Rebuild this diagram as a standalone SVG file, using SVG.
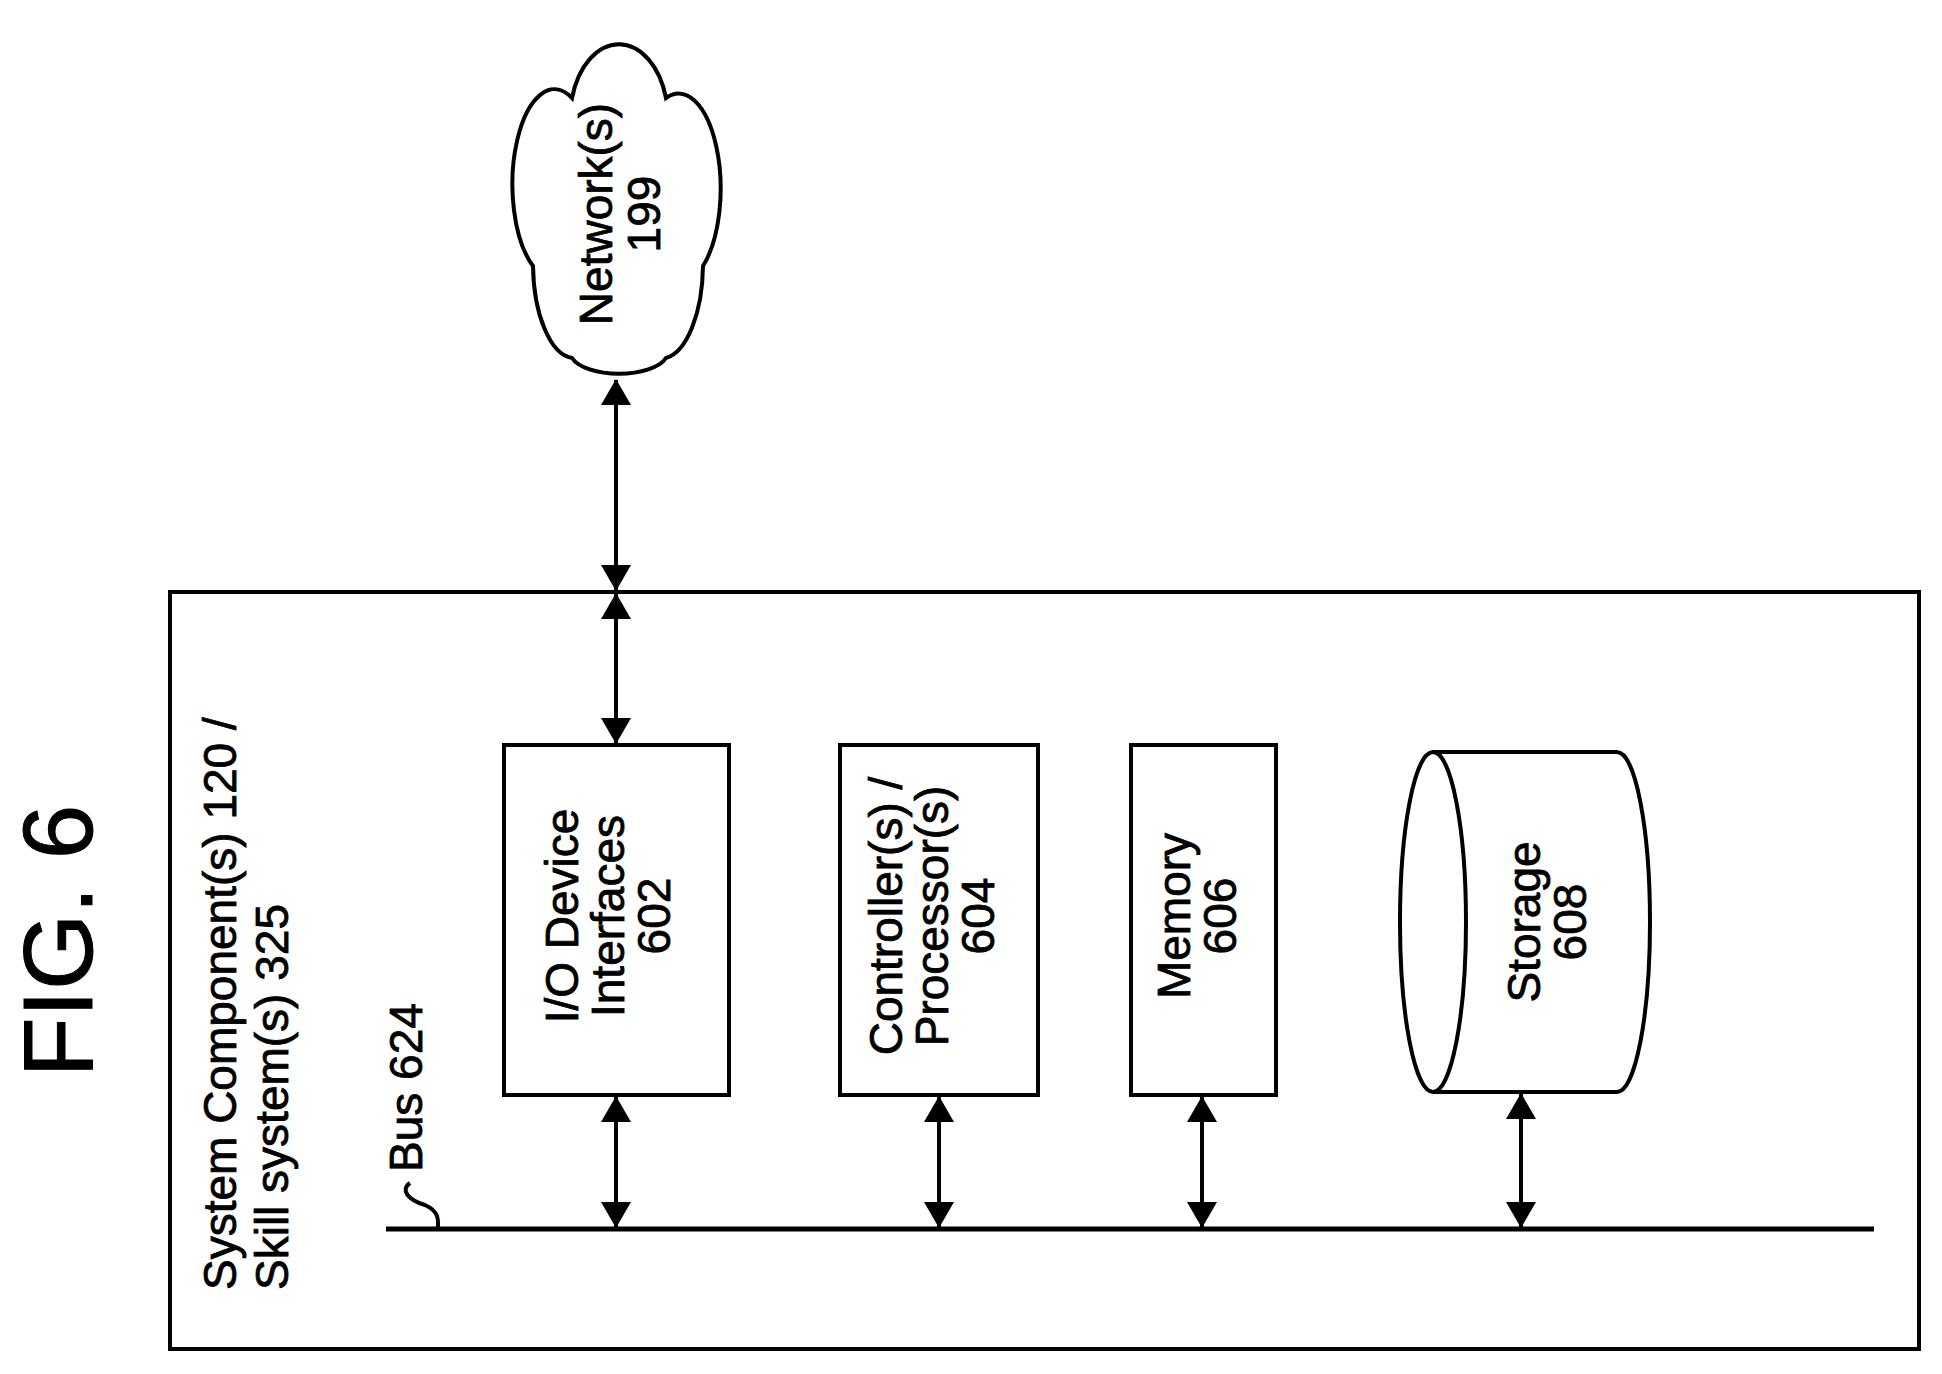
<svg xmlns="http://www.w3.org/2000/svg" width="1942" height="1374" viewBox="0 0 1942 1374">
<style>
.s{fill:none;stroke:#000;stroke-width:4}
.t{font-family:"Liberation Sans",Arial,sans-serif;font-size:46px;fill:#000;text-anchor:middle;stroke:#000;stroke-width:0.8}
.a{fill:none;stroke:#000;stroke-width:4;marker-start:url(#h);marker-end:url(#h)}
</style>
<defs>
<marker id="h" viewBox="0 0 26 30" refX="25" refY="15" markerWidth="26" markerHeight="30" markerUnits="userSpaceOnUse" orient="auto-start-reverse">
<path d="M0,0 L26,15 L0,30 Z" fill="#000"/>
</marker>
</defs>
<rect width="1942" height="1374" fill="#fff"/>
<text class="t" style="font-size:98px;stroke-width:1" transform="translate(92,941) rotate(-90)">FIG. 6</text>
<g id="outer">
<rect class="s" x="170" y="592" width="1749" height="757"/>
<text class="t" style="text-anchor:start" transform="translate(236,1290) rotate(-90)"><tspan x="0" y="0">System Component(s) 120 /</tspan><tspan x="0" y="52">Skill system(s) 325</tspan></text>
</g>
<g id="network">
<path class="s" d="M572,98 A49,75 0 0 1 666,98 A42,95 0 0 1 703,266 A42,95 0 0 1 666,358 A49,22 0 0 1 572,358 A42,95 0 0 1 533,266 A42,95 0 0 1 572,98 Z"/>
<text class="t" transform="translate(612,214) rotate(-90)"><tspan x="0" y="0">Network(s)</tspan><tspan x="0" y="48">199</tspan></text>
</g>
<g id="io">
<rect class="s" x="504" y="745" width="225" height="350"/>
<text class="t" transform="translate(578,916) rotate(-90)"><tspan x="0" y="0">I/O Device</tspan><tspan x="0" y="46">Interfaces</tspan><tspan x="0" y="92">602</tspan></text>
</g>
<g id="ctrl">
<rect class="s" x="840" y="745" width="198" height="350"/>
<text class="t" transform="translate(902,916) rotate(-90)"><tspan x="0" y="0">Controller(s) /</tspan><tspan x="0" y="46">Processor(s)</tspan><tspan x="0" y="92">604</tspan></text>
</g>
<g id="mem">
<rect class="s" x="1131" y="745" width="145" height="350"/>
<text class="t" transform="translate(1190,916) rotate(-90)"><tspan x="0" y="0">Memory</tspan><tspan x="0" y="46">606</tspan></text>
</g>
<g id="storage">
<path class="s" d="M1433,752 L1617,752 A33,170 0 0 1 1617,1092 L1433,1092 A33,170 0 0 1 1433,752 A33,170 0 0 1 1433,1092"/>
<text class="t" transform="translate(1540,922) rotate(-90)"><tspan x="0" y="0">Storage</tspan><tspan x="0" y="46">608</tspan></text>
</g>
<g id="bus">
<line x1="386" y1="1229" x2="1874" y2="1229" stroke="#000" stroke-width="5"/>
<path class="s" d="M410,1183 C400,1190 408,1200 425,1205 C440,1212 438,1220 438,1229"/>
<text class="t" style="text-anchor:start" transform="translate(422,1172) rotate(-90)">Bus 624</text>
</g>
<g id="connectors">
<line class="a" x1="616" y1="380" x2="616" y2="590"/>
<line class="a" x1="616" y1="594" x2="616" y2="743"/>
<line class="a" x1="616" y1="1097" x2="616" y2="1227"/>
<line class="a" x1="939" y1="1097" x2="939" y2="1227"/>
<line class="a" x1="1202" y1="1097" x2="1202" y2="1227"/>
<line class="a" x1="1521" y1="1094" x2="1521" y2="1227"/>
</g>
</svg>
